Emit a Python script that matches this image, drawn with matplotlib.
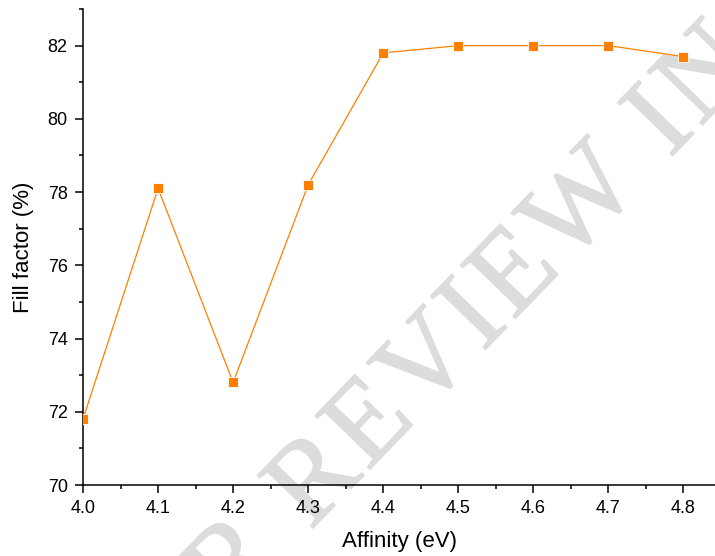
import matplotlib
matplotlib.use("Agg")
import numpy as np
import matplotlib.pyplot as plt
import matplotlib.patheffects as pe
from matplotlib.ticker import MultipleLocator
from matplotlib.font_manager import FontProperties, findfont, get_font

affinity = [4.0, 4.1, 4.2, 4.3, 4.4, 4.5, 4.6, 4.7, 4.8]
fill_factor = [71.8, 78.1, 72.8, 78.2, 81.8, 82.0, 82.0, 82.0, 81.7]
xtick_labels = ["4.0", "4.1", "4.2", "4.3", "4.4", "4.5", "4.6", "4.7", "4.8"]

plt.rcParams['font.family'] = ['Liberation Sans', 'DejaVu Sans']

W_PX, H_PX, DPI = 715, 556, 100
fig = plt.figure(figsize=(W_PX / DPI, H_PX / DPI), dpi=DPI)
ax = fig.add_axes([83/W_PX, 71/H_PX, 1 - 83/W_PX, (485-9)/H_PX])
ax.set_facecolor('none')

# --- watermark (letter-spaced, rotated) ---
wm_text = "UNDER REVIEW IN"
wm_size = 84          # pt
wm_track = 5          # extra px between letters
wm_angle = 46
ref_idx = wm_text.index("W")
ref_point = np.array([566.0, H_PX - 266.0])   # baseline start of the "W", pixels from bottom-left
fp = FontProperties(family='Liberation Serif', size=wm_size)
ft = get_font(findfont(fp))
ft.set_size(wm_size, DPI)
adv = []
for ch in wm_text:
    g = ft.load_char(ord(ch))
    adv.append(g.linearHoriAdvance / 65536.0 + wm_track)
cum = np.concatenate([[0.0], np.cumsum(adv)])
em = wm_size * DPI / 72.0
u = np.array([np.cos(np.deg2rad(wm_angle)), np.sin(np.deg2rad(wm_angle))])
start = ref_point - cum[ref_idx] * u
for i, ch in enumerate(wm_text):
    if ch == " ":
        continue
    p = start + cum[i] * u
    if p[1] + 0.95 * em < 0 or p[0] - 0.5 * em > W_PX:
        continue
    fig.text(p[0] / W_PX, p[1] / H_PX, ch, rotation=wm_angle, rotation_mode='anchor',
             fontsize=wm_size, family='Liberation Serif', color='#dcdcdc',
             ha='left', va='baseline', zorder=-1,
             path_effects=[pe.withStroke(linewidth=1.2, foreground='#dcdcdc')])

ax.plot(affinity, fill_factor, color='#FF8000', lw=0.9, marker='s', ms=7.5,
        mec='white', mew=0.6, zorder=3, clip_on=True)

ax.set_xlim(4.0, 4.842)
ax.set_ylim(70, 83)
ax.set_xticks(affinity)
ax.set_xticklabels(xtick_labels)
ax.xaxis.set_minor_locator(MultipleLocator(0.05))
ax.yaxis.set_major_locator(MultipleLocator(2))
ax.yaxis.set_minor_locator(MultipleLocator(1))
ax.tick_params(which='major', direction='out', length=6, width=1.1, labelsize=13, pad=5)
ax.tick_params(which='minor', direction='out', length=3, width=1.1)
for s in ['top', 'right']:
    ax.spines[s].set_visible(False)
for s in ['left', 'bottom']:
    ax.spines[s].set_linewidth(1.1)

ax.set_xlabel("Affinity (eV)", fontsize=16, labelpad=10)
ax.set_ylabel("Fill factor (%)", fontsize=16, labelpad=10)

fig.savefig("out.png", dpi=DPI)
